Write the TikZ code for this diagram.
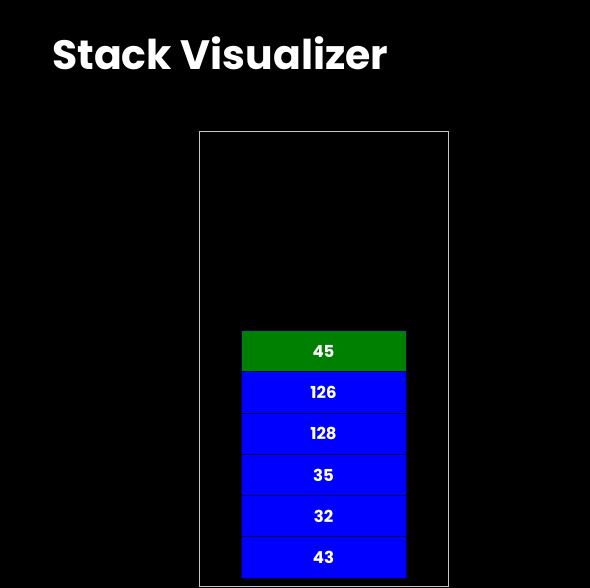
\documentclass[tikz,border=0pt]{standalone}
\usepackage{fontspec}
\setmainfont{Poppins}
\usepackage{tikz}
\pgfdeclarelayer{backlayer}
\pgfdeclarelayer{nodelayer}
\pgfsetlayers{backlayer,main,nodelayer}
\definecolor{framegray}{RGB}{200,200,200}
\definecolor{topgreen}{RGB}{0,128,0}
\definecolor{cellblue}{RGB}{0,0,255}
\definecolor{celledge}{RGB}{0,0,80}
\tikzstyle{heading}=[anchor=base west, text=white, inner sep=0pt, font=\bfseries\fontsize{41}{44}\selectfont]
\tikzstyle{container}=[draw=framegray, line width=1pt, minimum width=248.5pt, minimum height=455pt, inner sep=0pt]
\tikzstyle{cell}=[draw=celledge, line width=0.8pt, text=white, inner sep=0pt, minimum width=165pt, minimum height=41.2pt, font=\bfseries\fontsize{16.5}{17}\selectfont]
\tikzstyle{topcell}=[cell, fill=topgreen]
\tikzstyle{bluecell}=[cell, fill=cellblue]

\begin{document}
\begin{tikzpicture}[x=1pt, y=-1pt]
	\useasboundingbox (0,0) rectangle (590,588);
	\begin{pgfonlayer}{backlayer}
		\fill [black] (0,0) rectangle (590,588);
	\end{pgfonlayer}
	\node [style=heading] (title) at (52, 70) {Stack Visualizer};
	\node [style=container] (stack) at (323.75, 359) {};
	\begin{pgfonlayer}{nodelayer}
		\node [style=topcell] (6) at (323.5, 351.3) {45};
		\node [style=bluecell] (5) at (323.5, 392.5) {126};
		\node [style=bluecell] (4) at (323.5, 433.7) {128};
		\node [style=bluecell] (3) at (323.5, 474.9) {35};
		\node [style=bluecell] (2) at (323.5, 516.1) {32};
		\node [style=bluecell] (1) at (323.5, 557.3) {43};
	\end{pgfonlayer}
\end{tikzpicture}
\end{document}
